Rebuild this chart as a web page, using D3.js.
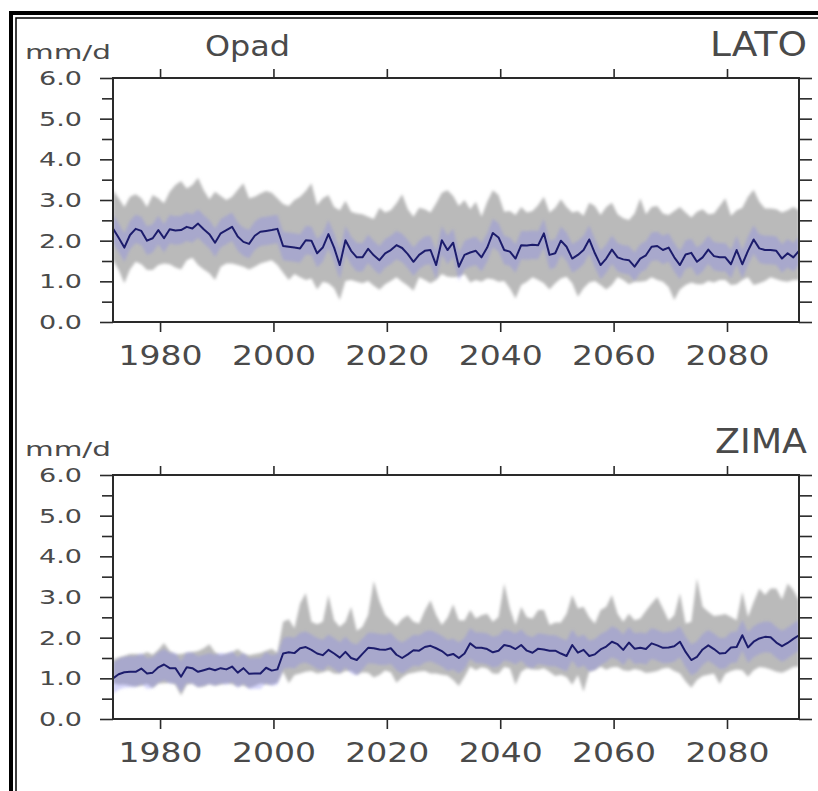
<!DOCTYPE html>
<html lang="pl">
<head>
    <meta charset="UTF-8"/>
    <title>Opad - LATO / ZIMA</title>
    <script src="https://d3js.org/d3.v7.min.js"></script>
    <style>
        html, body {
            margin: 0;
            padding: 0;
            background: #fff;
        }

        svg {
            display: block;
            font-family: "DejaVu Sans", "Liberation Sans", sans-serif;
        }
    </style>
</head>
<body>
<svg id="chart" width="818" height="791"></svg>
<script>
    // years 1971..2092, one value per season
    const firstYear = 1971;
    const lastYear = 2092;
    const tickYears = [1980, 2000, 2020, 2040, 2060, 2080];
    const yLabels = [0, 1, 2, 3, 4, 5, 6];
    const yMinor = [0.5, 1.5, 2.5, 3.5, 4.5, 5.5];

    // LATO (summer) ensemble mean and min / max envelope, mm/d
    const latoMean = [
        2.30, 2.07, 1.83, 2.14, 2.29, 2.24, 2.00, 2.06, 2.26, 2.06,
        2.28, 2.25, 2.26, 2.34, 2.30, 2.42, 2.28, 2.16, 1.95, 2.18,
        2.26, 2.34, 2.10, 1.97, 1.92, 2.12, 2.22, 2.24, 2.26, 2.29,
        1.87, 1.85, 1.83, 1.81, 2.01, 2.00, 1.69, 1.83, 2.16, 1.83,
        1.40, 2.01, 1.75, 1.59, 1.59, 1.80, 1.64, 1.52, 1.69, 1.77,
        1.89, 1.82, 1.67, 1.48, 1.65, 1.75, 1.77, 1.40, 2.01, 1.77,
        1.95, 1.36, 1.65, 1.71, 1.75, 1.59, 1.83, 2.19, 2.08, 1.77,
        1.73, 1.56, 1.89, 1.88, 1.90, 1.89, 2.18, 1.65, 1.69, 2.00,
        1.85, 1.56, 1.65, 1.77, 2.03, 1.69, 1.40, 1.56, 1.78, 1.59,
        1.54, 1.52, 1.36, 1.56, 1.64, 1.85, 1.87, 1.77, 1.83, 1.59,
        1.40, 1.66, 1.70, 1.48, 1.59, 1.78, 1.62, 1.59, 1.59, 1.42,
        1.77, 1.42, 1.75, 2.03, 1.81, 1.77, 1.77, 1.75, 1.56, 1.69,
        1.59, 1.75
    ];
    const latoMax = [
        3.24, 3.04, 2.83, 3.08, 3.14, 3.04, 2.83, 3.12, 3.04, 2.92,
        3.20, 3.37, 3.47, 3.28, 3.37, 3.55, 3.24, 3.02, 3.20, 3.10,
        3.00, 3.08, 3.25, 3.41, 3.04, 3.08, 3.16, 3.22, 3.18, 3.04,
        2.90, 2.85, 3.00, 3.08, 3.22, 3.41, 2.88, 3.04, 3.12, 2.83,
        2.75, 2.98, 2.71, 2.67, 2.65, 2.59, 2.53, 2.81, 2.69, 2.75,
        2.92, 3.14, 2.77, 2.59, 2.81, 2.77, 2.69, 2.92, 3.18, 3.24,
        3.10, 2.85, 3.00, 2.77, 2.96, 2.59, 2.96, 3.24, 3.12, 2.71,
        2.73, 2.63, 2.83, 2.69, 2.73, 2.88, 3.08, 2.69, 2.81, 3.02,
        2.83, 2.69, 2.73, 2.61, 2.93, 2.85, 2.63, 2.83, 2.93, 2.65,
        2.55, 2.51, 2.67, 3.04, 2.65, 2.83, 2.85, 2.67, 2.63, 2.73,
        2.83, 2.69, 2.57, 2.71, 2.77, 2.65, 2.67, 2.85, 3.04, 2.61,
        2.75, 2.81, 3.08, 3.25, 2.96, 2.79, 2.79, 2.77, 2.69, 2.75,
        2.83, 2.75
    ];
    const latoMin = [
        1.52, 1.28, 0.95, 1.29, 1.48, 1.42, 1.28, 1.28, 1.40, 1.44,
        1.42, 1.34, 1.29, 1.52, 1.58, 1.40, 1.29, 1.20, 1.03, 1.36,
        1.44, 1.44, 1.40, 1.36, 1.29, 1.36, 1.44, 1.48, 1.52, 1.40,
        1.21, 1.03, 1.18, 1.10, 1.03, 1.07, 0.80, 0.99, 0.95, 0.83,
        0.54, 1.01, 1.03, 0.99, 0.95, 1.01, 0.89, 0.79, 0.93, 1.01,
        1.10, 0.99, 0.89, 0.77, 1.10, 1.03, 0.95, 1.03, 1.18, 1.11,
        1.10, 1.11, 1.18, 0.97, 1.03, 0.99, 1.07, 1.05, 0.99, 1.01,
        0.83, 0.58, 0.91, 0.99, 1.10, 1.03, 0.95, 0.80, 0.95, 1.07,
        1.11, 0.95, 0.62, 0.83, 0.97, 1.01, 0.91, 0.80, 0.91, 1.10,
        1.03, 0.93, 0.99, 0.99, 1.01, 1.10, 1.03, 0.99, 0.86, 0.54,
        0.80, 0.91, 0.97, 0.93, 0.93, 1.01, 0.97, 1.03, 1.03, 0.91,
        0.93, 1.03, 1.10, 0.91, 0.95, 1.01, 1.10, 1.05, 1.01, 0.99,
        1.03, 1.03
    ];

    // ZIMA (winter)
    const zimaMean = [
        1.00, 1.10, 1.15, 1.16, 1.16, 1.24, 1.12, 1.14, 1.27, 1.34,
        1.25, 1.25, 1.04, 1.27, 1.25, 1.16, 1.20, 1.24, 1.20, 1.25,
        1.22, 1.29, 1.14, 1.25, 1.11, 1.12, 1.12, 1.26, 1.19, 1.22,
        1.61, 1.64, 1.62, 1.74, 1.77, 1.70, 1.61, 1.57, 1.70, 1.61,
        1.51, 1.65, 1.50, 1.45, 1.60, 1.75, 1.74, 1.71, 1.70, 1.74,
        1.58, 1.50, 1.59, 1.69, 1.68, 1.77, 1.80, 1.74, 1.67, 1.56,
        1.60, 1.50, 1.61, 1.86, 1.75, 1.75, 1.72, 1.64, 1.68, 1.82,
        1.79, 1.72, 1.82, 1.68, 1.63, 1.73, 1.71, 1.68, 1.68, 1.61,
        1.55, 1.82, 1.63, 1.70, 1.55, 1.59, 1.71, 1.78, 1.90, 1.84,
        1.70, 1.88, 1.73, 1.75, 1.72, 1.86, 1.81, 1.75, 1.76, 1.79,
        1.90, 1.65, 1.45, 1.53, 1.71, 1.81, 1.72, 1.61, 1.62, 1.76,
        1.77, 2.06, 1.76, 1.90, 1.98, 2.02, 2.01, 1.88, 1.79, 1.87,
        1.97, 2.06
    ];
    const zimaMax = [
        1.45, 1.51, 1.55, 1.60, 1.60, 1.58, 1.65, 1.58, 1.70, 1.87,
        1.67, 1.59, 1.60, 1.63, 1.65, 1.67, 1.74, 1.84, 1.64, 1.57,
        1.61, 1.64, 1.72, 1.61, 1.57, 1.60, 1.62, 1.68, 1.73, 1.63,
        2.39, 2.45, 2.23, 2.84, 3.10, 2.39, 2.33, 2.39, 3.05, 2.43,
        2.27, 2.39, 2.76, 2.17, 2.27, 2.56, 3.40, 2.90, 2.56, 2.42,
        2.29, 2.46, 2.55, 2.39, 2.35, 2.67, 2.92, 2.56, 2.31, 2.49,
        2.82, 2.43, 2.42, 2.68, 2.47, 2.55, 2.59, 2.39, 2.51, 3.33,
        2.72, 2.31, 2.76, 2.50, 2.47, 2.68, 2.68, 2.31, 2.37, 2.37,
        2.59, 3.05, 2.72, 2.76, 2.50, 2.35, 2.68, 2.76, 3.05, 2.59,
        2.39, 2.59, 2.43, 2.47, 2.66, 2.84, 3.00, 2.72, 2.42, 2.55,
        3.09, 2.35, 2.39, 3.46, 2.76, 2.64, 2.53, 2.55, 2.58, 2.51,
        2.43, 3.13, 2.51, 2.88, 3.21, 3.05, 3.21, 3.21, 2.94, 3.33,
        3.17, 2.92
    ];
    const zimaMin = [
        0.88, 0.84, 0.85, 0.82, 0.80, 0.82, 0.86, 0.76, 0.87, 0.88,
        0.89, 0.85, 0.58, 0.84, 0.87, 0.78, 0.80, 0.86, 0.82, 0.85,
        0.88, 0.86, 0.80, 0.83, 0.76, 0.81, 0.87, 0.85, 0.84, 0.89,
        1.16, 0.88, 1.08, 1.12, 1.16, 1.18, 1.12, 1.15, 1.19, 1.12,
        1.11, 1.18, 1.18, 1.08, 1.15, 1.14, 1.02, 1.08, 1.19, 1.15,
        0.89, 1.02, 1.11, 1.14, 1.17, 1.18, 1.12, 1.12, 1.09, 1.07,
        0.96, 0.81, 1.03, 1.29, 1.20, 1.27, 1.24, 1.12, 1.11, 1.28,
        1.25, 0.84, 1.16, 1.25, 1.22, 1.21, 1.25, 1.16, 1.06, 1.09,
        1.03, 0.84, 1.08, 0.67, 1.16, 1.20, 1.29, 1.21, 1.27, 1.28,
        1.20, 1.18, 1.23, 1.20, 1.13, 1.15, 1.18, 1.24, 1.26, 1.18,
        1.12, 0.92, 0.77, 0.96, 1.06, 1.09, 1.12, 0.86, 1.11, 1.18,
        1.22, 1.20, 1.04, 1.20, 1.28, 1.26, 1.22, 1.16, 1.14, 1.20,
        1.28, 1.29
    ];

    // half width of the lavender band round the mean
    const latoSpread = 0.35;
    const zimaSpread = 0.38;

    const panels = [
        {season: "LATO", mean: latoMean, max: latoMax, min: latoMin, spread: latoSpread, top: 78, bottom: 322, showTitle: true},
        {season: "ZIMA", mean: zimaMean, max: zimaMax, min: zimaMin, spread: zimaSpread, top: 475, bottom: 719, showTitle: false}
    ];

    const svg = d3.select("#chart");
    const left = 113, right = 799;
    const seasonOffset = 0.7;   // seasonal value sits a bit after Jan 1 on the time axis
    const textColor = "#4a4a4a";

    const defs = svg.append("defs");
    defs.append("filter").attr("id", "softGray").attr("x", "-5%").attr("y", "-20%").attr("width", "110%").attr("height", "140%")
        .append("feGaussianBlur").attr("stdDeviation", 1.4);
    defs.append("filter").attr("id", "softLine")
        .append("feGaussianBlur").attr("stdDeviation", 0.45);

    // double frame around the figure
    svg.append("rect").attr("x", 11).attr("y", 13).attr("width", 900).attr("height", 900)
        .attr("fill", "none").attr("stroke", "#000").attr("stroke-width", 4);
    svg.append("rect").attr("x", 16).attr("y", 18).attr("width", 900).attr("height", 900)
        .attr("fill", "none").attr("stroke", "#000").attr("stroke-width", 1.5);

    const x = d3.scaleLinear()
        .domain([firstYear + seasonOffset, lastYear + seasonOffset])
        .range([left, right]);

    panels.forEach((p, pi) => {
        const y = d3.scaleLinear().domain([0, 6]).range([p.bottom, p.top]);
        const g = svg.append("g");
        const clipId = "clip" + pi;

        g.append("clipPath").attr("id", clipId)
            .append("rect").attr("x", left).attr("y", p.top).attr("width", right - left).attr("height", p.bottom - p.top);

        const rows = p.mean.map((m, i) => ({
            year: firstYear + i + seasonOffset,
            mean: m, max: p.max[i], min: p.min[i]
        }));

        const plot = g.append("g").attr("clip-path", `url(#${clipId})`);

        // grey min-max envelope
        plot.append("path")
            .datum(rows)
            .attr("fill", "#bababa")
            .attr("filter", "url(#softGray)")
            .attr("d", d3.area().x(d => x(d.year)).y0(d => y(d.min)).y1(d => y(d.max)));

        // lavender band round the mean
        plot.append("path")
            .datum(rows)
            .attr("fill", "#8484f0")
            .attr("fill-opacity", 0.33)
            .attr("filter", "url(#softGray)")
            .attr("d", d3.area().x(d => x(d.year)).y0(d => y(d.mean - p.spread)).y1(d => y(d.mean + p.spread)));

        // ensemble mean
        plot.append("path")
            .datum(rows)
            .attr("fill", "none")
            .attr("stroke", "#1d1d6c")
            .attr("stroke-width", 2)
            .attr("stroke-linejoin", "round")
            .attr("filter", "url(#softLine)")
            .attr("d", d3.line().x(d => x(d.year)).y(d => y(d.mean)));

        // axes
        const styleAxis = sel => {
            sel.select(".domain").remove();
            sel.selectAll("line").attr("stroke", "#2a2a2a").attr("stroke-width", 1.6);
            sel.attr("font-family", null).attr("font-size", null);
        };

        g.append("g").attr("transform", `translate(0,${p.bottom})`)
            .call(d3.axisBottom(x).tickValues(tickYears).tickSize(10).tickPadding(14).tickFormat(d3.format("d")))
            .call(styleAxis)
            .selectAll("text")
            .attr("fill", textColor)
            .attr("font-size", 27)
            .attr("textLength", 84)
            .attr("lengthAdjust", "spacingAndGlyphs");

        g.append("g").attr("transform", `translate(0,${p.top})`)
            .call(d3.axisTop(x).tickValues(tickYears).tickSize(9).tickFormat(""))
            .call(styleAxis);

        g.append("g").attr("transform", `translate(${left},0)`)
            .call(d3.axisLeft(y).tickValues(yLabels).tickSize(13).tickPadding(18).tickFormat(d3.format(".1f")))
            .call(styleAxis)
            .selectAll("text")
            .attr("fill", textColor)
            .attr("font-size", 20)
            .attr("textLength", 43)
            .attr("lengthAdjust", "spacingAndGlyphs");

        g.append("g").attr("transform", `translate(${left},0)`)
            .call(d3.axisLeft(y).tickValues(yMinor).tickSize(11).tickFormat(""))
            .call(styleAxis);

        g.append("g").attr("transform", `translate(${right},0)`)
            .call(d3.axisRight(y).tickValues(yLabels.concat(yMinor)).tickSize(13).tickFormat(""))
            .call(styleAxis);

        // plot frame
        g.append("rect")
            .attr("x", left).attr("y", p.top)
            .attr("width", right - left).attr("height", p.bottom - p.top)
            .attr("fill", "none").attr("stroke", "#2a2a2a").attr("stroke-width", 2);

        // unit, season, title
        g.append("text")
            .attr("x", 25).attr("y", p.top - 19)
            .attr("fill", textColor).attr("font-size", 20)
            .attr("textLength", 86).attr("lengthAdjust", "spacingAndGlyphs")
            .text("mm/d");

        g.append("text")
            .attr("x", 807).attr("y", p.top - 22)
            .attr("text-anchor", "end")
            .attr("fill", textColor).attr("font-size", 33)
            .attr("textLength", p.season === "LATO" ? 97 : 92).attr("lengthAdjust", "spacingAndGlyphs")
            .text(p.season);

        if (p.showTitle) {
            g.append("text")
                .attr("x", 205).attr("y", p.top - 22)
                .attr("fill", textColor).attr("font-size", 28)
                .attr("textLength", 85).attr("lengthAdjust", "spacingAndGlyphs")
                .text("Opad");
        }
    });
</script>
</body>
</html>
